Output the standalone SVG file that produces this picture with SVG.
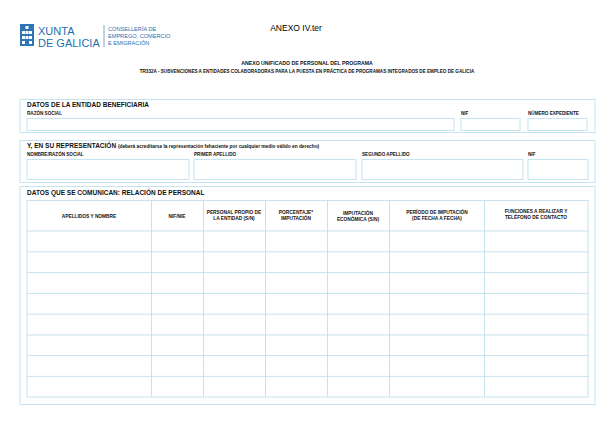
<svg xmlns="http://www.w3.org/2000/svg" width="615" height="439" viewBox="0 0 615 439">
<style>
.b{fill:none;stroke:#c5e3f0;stroke-width:1}
.g{stroke:#b8dcea;stroke-width:0.8}
.t{font-family:"Liberation Sans",Arial,sans-serif;font-weight:bold;fill:#111}
.h{font-size:6.5px}
.l{font-size:4.6px}
.c{font-size:4.8px;text-anchor:middle}
.lg{font-family:"Liberation Sans",Arial,sans-serif;fill:#1f6fb0}
</style>
<rect width="615" height="439" fill="#fff"/>
<g id="logo">
<rect x="20" y="24" width="14" height="22" fill="#2f74b5"/>
<g fill="#fff"><rect x="25.5" y="26" width="3" height="3"/><rect x="22" y="31" width="3" height="3"/><rect x="25.5" y="31" width="3" height="3"/><rect x="29" y="31" width="3" height="3"/><rect x="22" y="36" width="3" height="3"/><rect x="25.5" y="36" width="3" height="3"/><rect x="29" y="36" width="3" height="3"/><rect x="22" y="41" width="3" height="3"/><rect x="29" y="41" width="3" height="3"/></g>
<text class="lg" x="38" y="35" font-size="11">XUNTA</text>
<text class="lg" x="38" y="47" font-size="11">DE GALICIA</text>
<line x1="104" y1="25" x2="104" y2="47" stroke="#1f6fb0" stroke-width="0.6"/>
<text class="lg" x="108" y="31" font-size="5.6">CONSELLERÍA DE</text>
<text class="lg" x="108" y="38" font-size="5.6">EMPREGO, COMERCIO</text>
<text class="lg" x="108" y="45" font-size="5.6">E EMIGRACIÓN</text>
</g>
<g id="title">
<text x="296" y="31" font-family="Liberation Sans,Arial,sans-serif" font-size="8.5" text-anchor="middle">ANEXO IV.ter</text>
<text class="t" x="307" y="65" font-size="5.2" text-anchor="middle">ANEXO UNIFICADO DE PERSONAL DEL PROGRAMA</text>
<text class="t" x="307" y="73" font-size="4.6" text-anchor="middle">TR332A - SUBVENCIONES A ENTIDADES COLABORADORAS PARA LA PUESTA EN PRÁCTICA DE PROGRAMAS INTEGRADOS DE EMPLEO DE GALICIA</text>
</g>
<g id="s1">
<rect class="b" x="20" y="99.5" width="575" height="33"/>
<text class="t h" x="27" y="107">DATOS DE LA ENTIDAD BENEFICIARIA</text>
<text class="t l" x="27" y="115">RAZÓN SOCIAL</text>
<text class="t l" x="461" y="115">NIF</text>
<text class="t l" x="528" y="115">NÚMERO EXPEDIENTE</text>
<rect class="b" x="27" y="118.5" width="427" height="12"/>
<rect class="b" x="461" y="118.5" width="59" height="12"/>
<rect class="b" x="528" y="118.5" width="59" height="12"/>
</g>
<g id="s2">
<rect class="b" x="20" y="140.5" width="575" height="42"/>
<text class="t h" x="27" y="148">Y, EN SU REPRESENTACIÓN <tspan font-size="4.8">(deberá acreditarse la representación fehaciente por cualquier medio válido en derecho)</tspan></text>
<text class="t l" x="27" y="156">NOMBRE/RAZÓN SOCIAL</text>
<text class="t l" x="194" y="156">PRIMER APELLIDO</text>
<text class="t l" x="362" y="156">SEGUNDO APELLIDO</text>
<text class="t l" x="528" y="156">NIF</text>
<rect class="b" x="27" y="159.5" width="162" height="20"/>
<rect class="b" x="194" y="159.5" width="162" height="20"/>
<rect class="b" x="362" y="159.5" width="161" height="20"/>
<rect class="b" x="528" y="159.5" width="60" height="20"/>
</g>
<g id="s3">
<rect class="b" x="20" y="186.5" width="575" height="218"/>
<text class="t h" x="27" y="195">DATOS QUE SE COMUNICAN: RELACIÓN DE PERSONAL</text>
<g class="g">
<line x1="27" y1="200.5" x2="588" y2="200.5"/>
<line x1="27" y1="231" x2="588" y2="231"/>
<line x1="27" y1="251.8" x2="588" y2="251.8"/>
<line x1="27" y1="272.6" x2="588" y2="272.6"/>
<line x1="27" y1="293.4" x2="588" y2="293.4"/>
<line x1="27" y1="314.2" x2="588" y2="314.2"/>
<line x1="27" y1="335" x2="588" y2="335"/>
<line x1="27" y1="355.6" x2="588" y2="355.6"/>
<line x1="27" y1="376.4" x2="588" y2="376.4"/>
<line x1="27" y1="397" x2="588" y2="397"/>
<line x1="27" y1="200.5" x2="27" y2="397"/>
<line x1="151.5" y1="200.5" x2="151.5" y2="397"/>
<line x1="203.5" y1="200.5" x2="203.5" y2="397"/>
<line x1="265.5" y1="200.5" x2="265.5" y2="397"/>
<line x1="327.5" y1="200.5" x2="327.5" y2="397"/>
<line x1="389.5" y1="200.5" x2="389.5" y2="397"/>
<line x1="484.5" y1="200.5" x2="484.5" y2="397"/>
<line x1="588" y1="200.5" x2="588" y2="397"/>
</g>
<text class="t c" x="89" y="218">APELLIDOS Y NOMBRE</text>
<text class="t c" x="177" y="218">NIF/NIE</text>
<text class="t c" x="234" y="214">PERSONAL PROPIO DE</text>
<text class="t c" x="234" y="220">LA ENTIDAD (S/N)</text>
<text class="t c" x="296" y="214">PORCENTAJE*</text>
<text class="t c" x="296" y="220">IMPUTACIÓN</text>
<text class="t c" x="358" y="215">IMPUTACIÓN</text>
<text class="t c" x="358" y="221">ECONÓMICA (S/N)</text>
<text class="t c" x="437" y="214">PERÍODO DE IMPUTACIÓN</text>
<text class="t c" x="437" y="220">(DE FECHA A FECHA)</text>
<text class="t c" x="536" y="213">FUNCIONES A REALIZAR Y</text>
<text class="t c" x="536" y="219">TELÉFONO DE CONTACTO</text>
</g>
</svg>
